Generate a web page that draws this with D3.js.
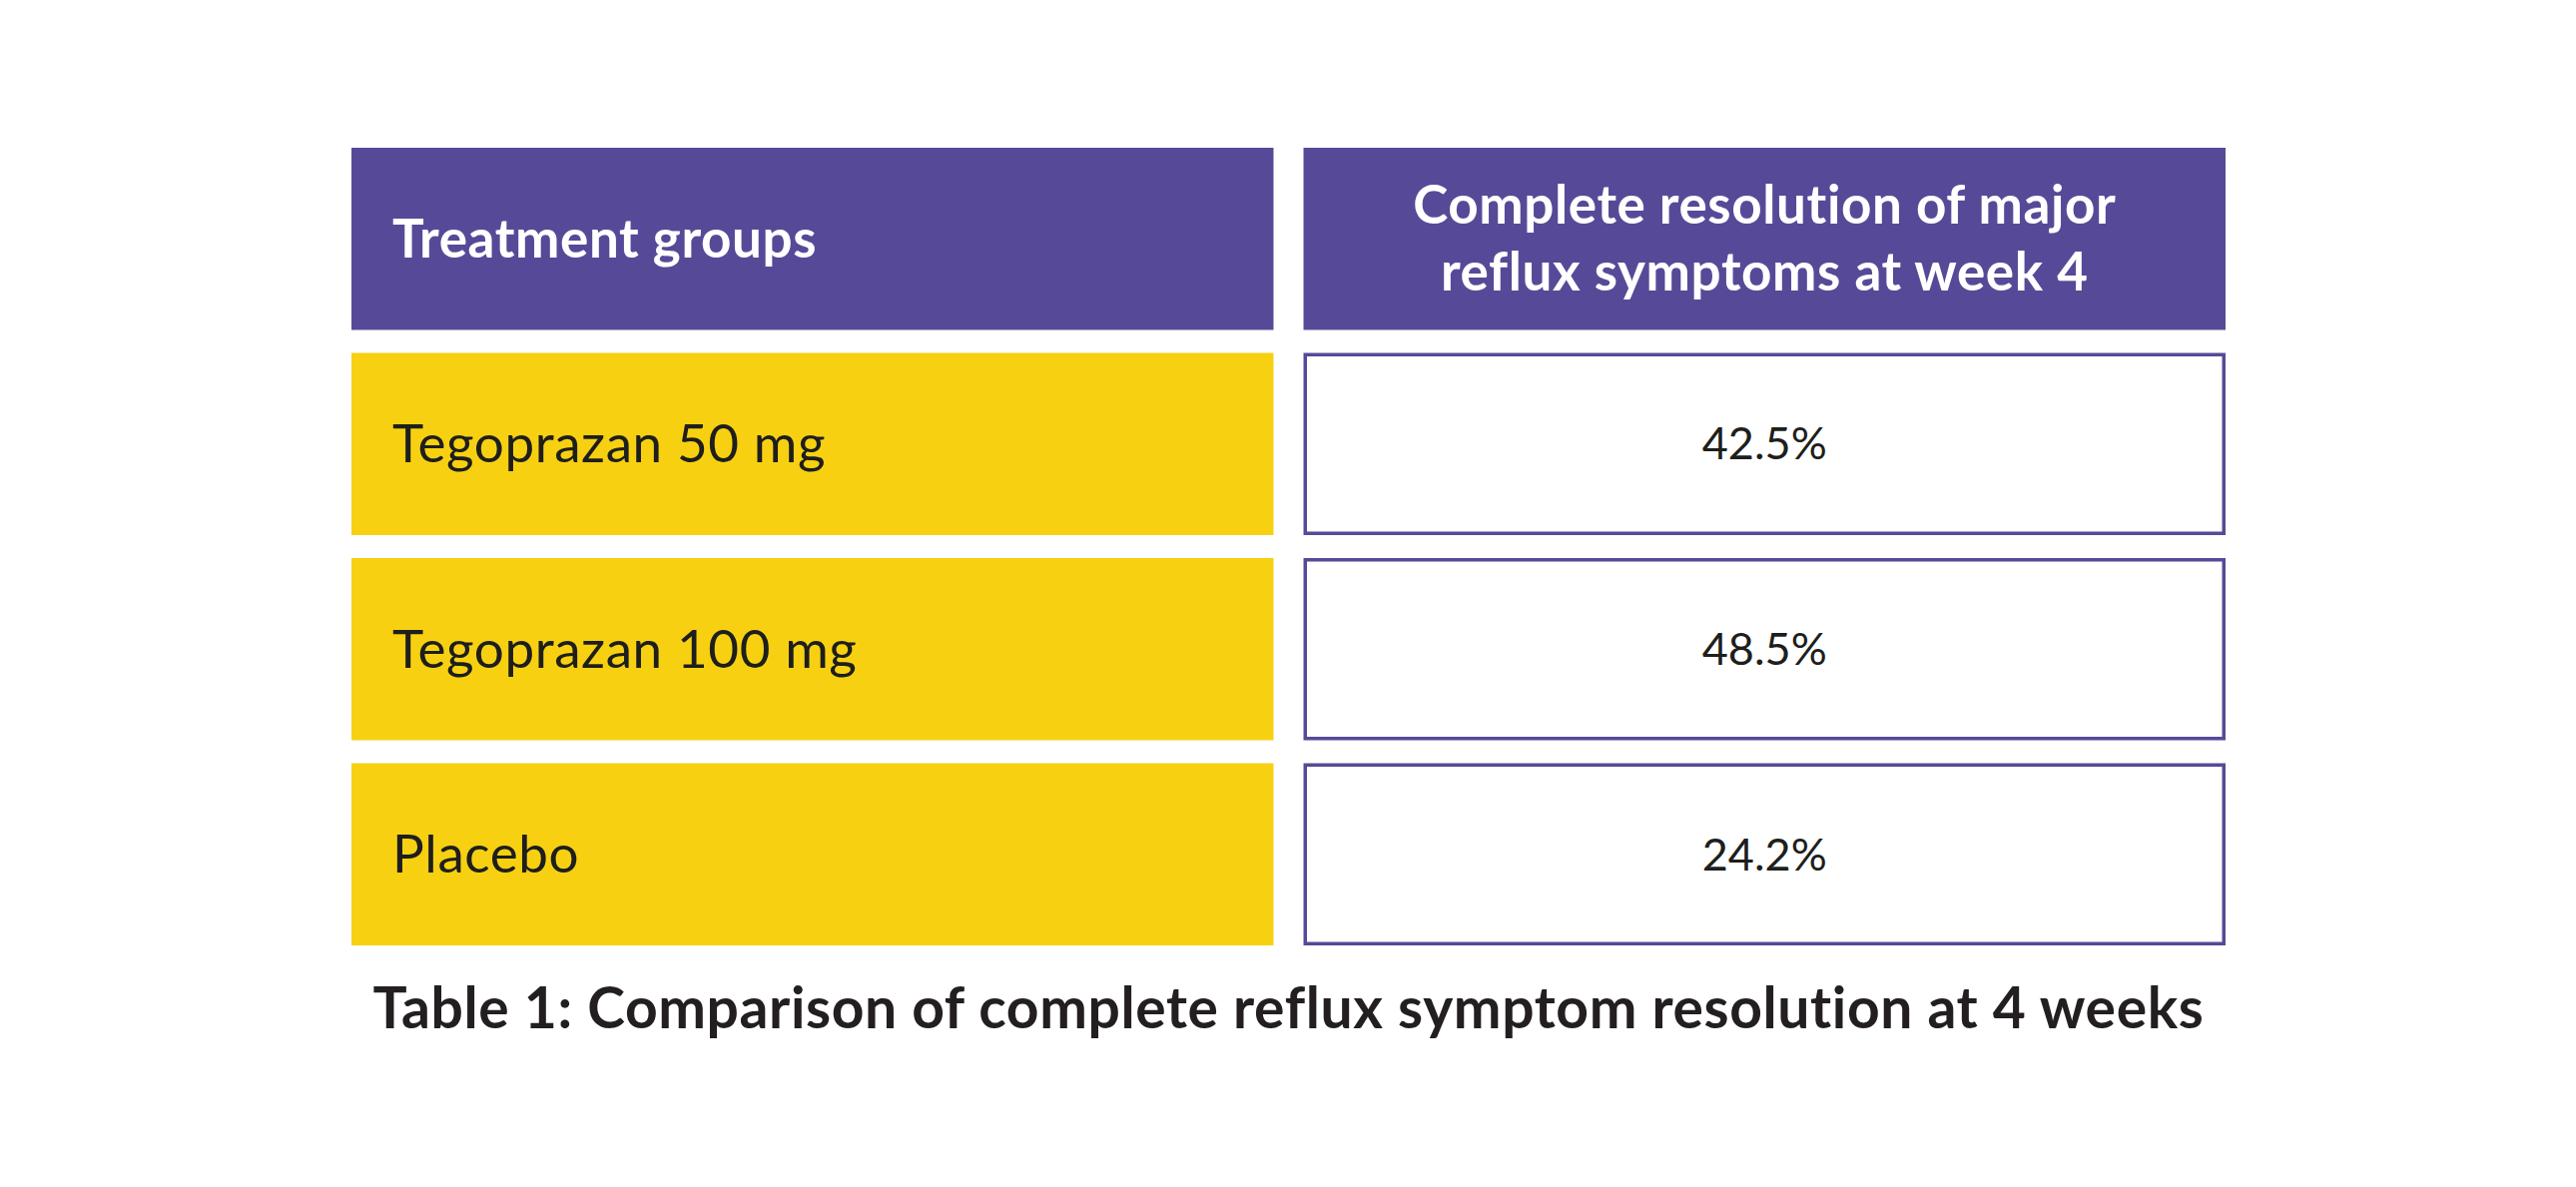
<!DOCTYPE html>
<html>
<head>
<meta charset="utf-8">
<script src="https://cdn.jsdelivr.net/npm/d3@7"></script>
<style>
  html, body { margin: 0; padding: 0; background: #ffffff; }
  svg { display: block; }
</style>
</head>
<body>
<svg id="chart" width="2580" height="1189"></svg>
<script>
// ---- data ----
const columnKeys = ["group", "value"];
const headerLeft = ["Treatment groups"];
const headerRight = ["Complete resolution of major", "reflux symptoms at week 4"];
const groups = ["Tegoprazan 50 mg", "Tegoprazan 100 mg", "Placebo"];
const values = [42.5, 48.5, 24.2];
const caption = "Table 1: Comparison of complete reflux symptom resolution at 4 weeks";

// ---- style ----
const purple = "#564a98";
const yellow = "#f7d111";
const textDark = "#1e1e1c";
const fontFamily = "Lato, 'Open Sans', sans-serif";

const svg = d3.select("#chart");

const rowKeys = ["header"].concat(groups);
const y = d3.scaleBand().domain(rowKeys).range([148, 947]).paddingInner(0.112).paddingOuter(0);
const x = d3.scaleBand().domain(columnKeys).range([352, 2229]).paddingInner(0.0315).paddingOuter(0);

const fmt = v => d3.format(".1f")(v) + "%";
const inset = 41;

// header cells
const header = svg.append("g").attr("class", "header");
header.selectAll("rect").data(columnKeys).join("rect")
  .attr("x", d => x(d)).attr("y", y("header"))
  .attr("width", x.bandwidth()).attr("height", y.bandwidth())
  .attr("fill", purple);

header.append("text")
  .attr("x", x("group") + inset)
  .attr("y", y("header") + y.bandwidth() / 2)
  .attr("dy", "0.35em")
  .attr("fill", "#ffffff")
  .attr("font-family", fontFamily).attr("font-weight", 700).attr("font-size", 53)
  .attr("letter-spacing", 0.6)
  .text(headerLeft[0]);

const hr = header.append("text")
  .attr("text-anchor", "middle")
  .attr("fill", "#ffffff")
  .attr("font-family", fontFamily).attr("font-weight", 700).attr("font-size", 53)
  .attr("letter-spacing", 0.6);
hr.selectAll("tspan").data(headerRight).join("tspan")
  .attr("x", x("value") + x.bandwidth() / 2)
  .attr("y", (d, i) => y("header") + y.bandwidth() / 2 + (i - 0.5) * 67)
  .attr("dy", "0.35em")
  .text(d => d);

// body rows
const rows = svg.append("g").attr("class", "rows")
  .selectAll("g").data(groups.map((g, i) => ({ group: g, value: values[i] })))
  .join("g");

rows.append("rect")
  .attr("x", x("group")).attr("y", d => y(d.group))
  .attr("width", x.bandwidth()).attr("height", y.bandwidth())
  .attr("fill", yellow);

rows.append("text")
  .attr("x", x("group") + inset)
  .attr("y", d => y(d.group) + y.bandwidth() / 2)
  .attr("dy", "0.35em")
  .attr("fill", textDark)
  .attr("font-family", fontFamily).attr("font-weight", 400).attr("font-size", 53)
  .attr("letter-spacing", 0.6)
  .text(d => d.group);

const sw = 3.5;
rows.append("rect")
  .attr("x", x("value") + sw / 2).attr("y", d => y(d.group) + sw / 2)
  .attr("width", x.bandwidth() - sw).attr("height", y.bandwidth() - sw)
  .attr("fill", "#ffffff").attr("stroke", purple).attr("stroke-width", sw);

rows.append("text")
  .attr("x", x("value") + x.bandwidth() / 2)
  .attr("y", d => y(d.group) + y.bandwidth() / 2)
  .attr("dy", "0.35em")
  .attr("text-anchor", "middle")
  .attr("fill", textDark)
  .attr("font-family", fontFamily).attr("font-weight", 400).attr("font-size", 45)
  .text(d => fmt(d.value));

// caption
svg.append("text")
  .attr("x", (x("group") + x("value") + x.bandwidth()) / 2)
  .attr("y", 1030)
  .attr("text-anchor", "middle")
  .attr("fill", "#231f20")
  .attr("font-family", fontFamily).attr("font-weight", 700).attr("font-size", 57)
  .attr("letter-spacing", 0.6)
  .text(caption);
</script>
</body>
</html>
